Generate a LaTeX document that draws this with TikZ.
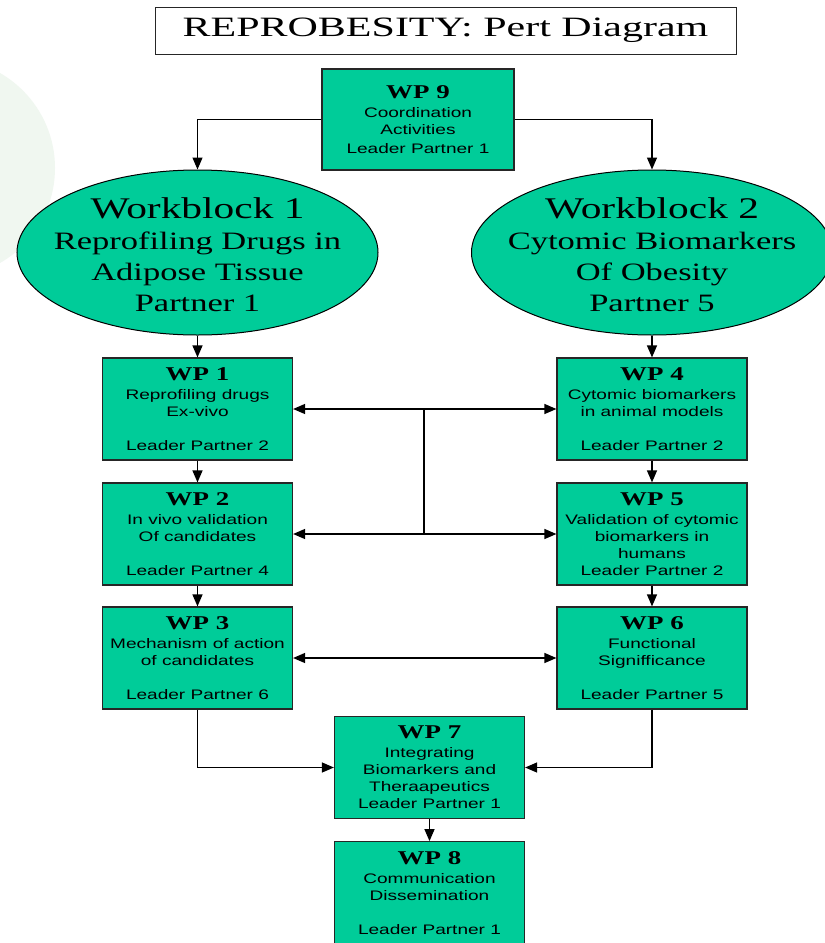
\documentclass[tikz,border=0pt]{standalone}
\usepackage{fontspec}
\setmainfont{Liberation Serif}
\newfontfamily\arialf[FakeStretch=1.38]{Liberation Sans}
\newfontfamily\timesf[FakeStretch=1.38]{Liberation Serif}
\newfontfamily\titlef[FakeStretch=1.5]{Liberation Serif}
\usetikzlibrary{shapes.geometric,arrows.meta}
\definecolor{wpgreen}{RGB}{0,204,153}
\definecolor{bgcircle}{RGB}{240,247,240}
\newcommand{\wph}[1]{{\timesf\bfseries\fontsize{19.5}{20}\selectfont #1}}
\newcommand{\wbh}[1]{{\fontsize{30}{31}\selectfont #1}}
\begin{document}
\begin{tikzpicture}[x=1pt,y=-1pt,
  wpbox/.style={draw=black!85, line width=1.2pt, fill=wpgreen, minimum width=190pt, minimum height=102pt, inner sep=0pt, align=center, font=\arialf\fontsize{13.8}{17}\selectfont},
  wbell/.style={ellipse, draw=black, line width=1pt, fill=wpgreen, minimum width=361pt, minimum height=165pt, inner sep=0pt},
  wbtext/.style={inner sep=0pt, align=center, font=\timesf\fontsize{25}{31}\selectfont},
  titlebox/.style={draw=black!85, line width=1pt, fill=white, minimum width=581pt, minimum height=47pt, inner sep=0pt, font=\titlef\fontsize{28}{30}\selectfont},
  arr/.style={line width=1.3pt, -{Triangle[length=12pt,width=10pt]}},
  darr/.style={line width=1.3pt, {Triangle[length=12pt,width=10pt]}-{Triangle[length=12pt,width=10pt]}},
  conn/.style={line width=1.3pt}]
\useasboundingbox (0,0) rectangle (825,943);
\fill[white] (0,0) rectangle (825,943);
\fill[bgcircle] (-54.5,168) circle[radius=109.5];

\node[titlebox] (title) at (445.5,30.5) {REPROBESITY: Pert Diagram};

\node[wpbox, minimum width=192pt, minimum height=101pt] (wp9) at (418,119.5)
  {\wph{WP 9}\\[2pt] Coordination\\ Activities\\[2pt] Leader Partner 1};

\node[wbell] (wb1) at (197.5,252.5) {};
\node[wbtext] (wb1t) at (197.5,255)
  {\wbh{Workblock 1}\\ Reprofiling Drugs in\\ Adipose Tissue\\ Partner 1};
\node[wbell] (wb2) at (652,252.5) {};
\node[wbtext] (wb2t) at (652,255)
  {\wbh{Workblock 2}\\ Cytomic Biomarkers\\ Of Obesity\\ Partner 5};

\node[wpbox] (wp1) at (197.5,409)
  {\wph{WP 1}\\[2pt] Reprofiling drugs\\ Ex-vivo\\[17pt] Leader Partner 2};
\node[wpbox] (wp2) at (197.5,534)
  {\wph{WP 2}\\[2pt] In vivo validation\\ Of candidates\\[17pt] Leader Partner 4};
\node[wpbox] (wp3) at (197.5,658)
  {\wph{WP 3}\\[2pt] Mechanism of action\\ of candidates\\[17pt] Leader Partner 6};

\node[wpbox] (wp4) at (652,409)
  {\wph{WP 4}\\[2pt] Cytomic biomarkers\\ in animal models\\[17pt] Leader Partner 2};
\node[wpbox] (wp5) at (652,534)
  {\wph{WP 5}\\[2pt] Validation of cytomic\\ biomarkers in\\ humans\\ Leader Partner 2};
\node[wpbox] (wp6) at (652,658)
  {\wph{WP 6}\\[2pt] Functional\\ Signifficance\\[17pt] Leader Partner 5};

\node[wpbox] (wp7) at (429.5,767.5)
  {\wph{WP 7}\\[2pt] Integrating\\ Biomarkers and\\ Theraapeutics\\ Leader Partner 1};
\node[wpbox] (wp8) at (429.5,892.7)
  {\wph{WP 8}\\[2pt] Communication\\ Dissemination\\[17pt] Leader Partner 1};

\coordinate (j1) at (424,409);
\coordinate (j2) at (424,534);

\draw[arr] (wp9.west) -| (wb1.north);
\draw[arr] (wp9.east) -| (wb2.north);
\draw[arr] (wb1.south) -- (wp1.north);
\draw[arr] (wb2.south) -- (wp4.north);
\draw[arr] (wp1.south) -- (wp2.north);
\draw[arr] (wp2.south) -- (wp3.north);
\draw[arr] (wp4.south) -- (wp5.north);
\draw[arr] (wp5.south) -- (wp6.north);
\draw[darr] (wp1.east) -- (wp4.west);
\draw[darr] (wp2.east) -- (wp5.west);
\draw[conn] (j1) -- (j2);
\draw[darr] (wp3.east) -- (wp6.west);
\draw[arr] (wp3.south) |- (wp7.west);
\draw[arr] (wp6.south) |- (wp7.east);
\draw[arr] (wp7.south) -- (wp8.north);
\end{tikzpicture}
\end{document}
